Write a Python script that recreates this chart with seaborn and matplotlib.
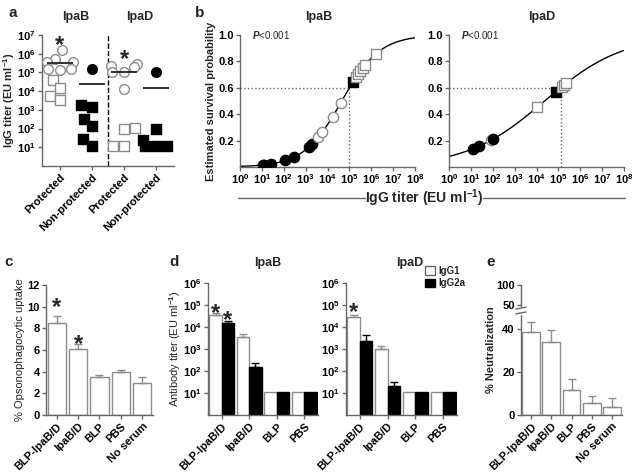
import numpy as np
import pandas as pd
import matplotlib
matplotlib.use('Agg')
import matplotlib.pyplot as plt
import matplotlib.transforms as mtransforms
import seaborn as sns
from matplotlib.lines import Line2D
from matplotlib.patches import Patch
from matplotlib.ticker import FuncFormatter, NullLocator

# ---------------- data ----------------
# a: IgG titers (EU/ml), protected vs non-protected
a_order = ['IpaB_P', 'IpaB_N', 'IpaD_P', 'IpaD_N']
a_ticklabels = ['Protected', 'Non-protected', 'Protected', 'Non-protected']
ipab_prot_circles = [1.6e6, 5.0e5, 3.8e5, 3.6e5, 1.6e5, 1.5e5, 1.4e5]
ipab_prot_squares = [4.0e4, 1.5e4, 5.5e3, 3.4e3]
ipab_non_circles = [1.5e5]
ipab_non_squares = [1.8e3, 1.4e3, 3.2e2, 1.3e2, 27, 12]
ipad_prot_circles = [2.8e5, 2.3e5, 1.9e5, 1.1e5, 1.0e5, 1.3e4]
ipad_prot_squares = [110, 92, 12, 12]
ipad_non_circles = [1.1e5]
ipad_non_squares = [100, 25, 12, 12, 12]
a_lines = [3.1e5, 2.3e4, 1.0e5, 1.5e4]

# b: logistic fit, logit(p) = intercept + slope*log10(titer)
ipab_fit = (-5.35, 1.15)
ipad_fit = (-2.44, 0.558)
ipab_fill_circles = [11, 13, 25, 120, 280, 1.5e3, 1.9e3]
ipab_open_circles = [3.8e3, 5.9e3, 1.7e4, 4.0e4]
ipab_fill_squares = [1.5e5]
ipab_open_squares = [2.0e5, 2.5e5, 3.2e5, 4.0e5, 5.0e5, 1.6e6]
ipad_fill_circles = [12, 24, 105]
ipad_open_circles = [83]
ipad_fill_squares = [7.6e4]
ipad_open_squares = [1.07e4, 1.4e5, 1.8e5, 2.3e5]
cutoff_p = 0.6

# c: opsonophagocytic uptake (%)
c_groups = ['BLP-IpaB/D', 'IpaB/D', 'BLP', 'PBS', 'No serum']
c_uptake = [8.46, 6.06, 3.48, 3.94, 2.92]
c_sem = [0.68, 0.54, 0.21, 0.21, 0.56]

# d: antibody titers (EU/ml) by isotype
d_groups = ['BLP-IpaB/D', 'IpaB/D', 'BLP', 'PBS']
d_isotypes = ['IgG1', 'IgG2a']
d_ipab_igg1 = [3.5e4, 3.6e3, 11, 11]
d_ipab_igg2a = [1.5e4, 1.5e2, 11, 11]
d_ipab_igg1_err = [7e3, 1.1e3, 0, 0]
d_ipab_igg2a_err = [4e3, 70, 0, 0]
d_ipad_igg1 = [2.9e4, 1.0e3, 11, 11]
d_ipad_igg2a = [2.2e3, 21, 11, 11]
d_ipad_igg1_err = [6e3, 4e2, 0, 0]
d_ipad_igg2a_err = [2.3e3, 10, 0, 0]

# e: neutralization (%)
e_groups = ['BLP-IpaB/D', 'IpaB/D', 'BLP', 'PBS', 'No serum']
e_neut = [38.7, 33.8, 11.6, 5.4, 3.6]
e_sem = [4.1, 5.7, 5.1, 3.4, 4.2]

# ---------------- style ----------------
sns.set_style('ticks')
plt.rcParams['font.family'] = ['Liberation Sans', 'DejaVu Sans']
plt.rcParams['font.weight'] = 'bold'
plt.rcParams['axes.labelweight'] = 'bold'
plt.rcParams['mathtext.fontset'] = 'custom'
plt.rcParams['mathtext.rm'] = 'Liberation Sans:bold'
plt.rcParams['mathtext.bf'] = 'Liberation Sans:bold'
plt.rcParams['mathtext.it'] = 'Liberation Sans:italic'
plt.rcParams['mathtext.default'] = 'rm'
GREY = '#666666'
OPEN = '#8c8c8c'
FS = 8

W, H = 638, 474
fig = plt.figure(figsize=(W / 100, H / 100), dpi=100)


def px_axes(x0, x1, y0, y1):
    return fig.add_axes([x0 / W, 1 - y1 / H, (x1 - x0) / W, (y1 - y0) / H])


def prism(ax):
    sns.despine(ax=ax)
    for s in ['left', 'bottom']:
        ax.spines[s].set_color(GREY)
        ax.spines[s].set_linewidth(1)
    ax.tick_params(colors=GREY, labelcolor='black', labelsize=FS, length=3, width=1, pad=1.5)


def decades(ax, axis, lo, hi):
    a = ax.yaxis if axis == 'y' else ax.xaxis
    a.set_ticks([10.0 ** k for k in range(lo, hi + 1)])
    a.set_major_formatter(FuncFormatter(lambda v, pos: f'10$^{{{int(round(np.log10(v)))}}}$'))
    a.set_minor_locator(NullLocator())


def star(ax, x, y, dy=-9):
    ax.annotate('*', (x, y), xytext=(0, dy), textcoords='offset points',
                ha='center', va='baseline', fontsize=17, fontweight='bold')


def surv(t, fit):
    return 1 / (1 + np.exp(-(fit[0] + fit[1] * np.log10(t))))


# ---------------- a ----------------
ax = px_axes(42, 174, 35, 166)
ax.set_yscale('log')
a_sets = [
    ('IpaB_P', ipab_prot_circles, 'o', False),
    ('IpaB_P', ipab_prot_squares, 's', False),
    ('IpaB_N', ipab_non_circles, 'o', True),
    ('IpaB_N', ipab_non_squares, 's', True),
    ('IpaD_P', ipad_prot_circles, 'o', False),
    ('IpaD_P', ipad_prot_squares, 's', False),
    ('IpaD_N', ipad_non_circles, 'o', True),
    ('IpaD_N', ipad_non_squares, 's', True),
]
for grp, vals, mk, filled in a_sets:
    sub = pd.DataFrame({'group': grp, 'titer': vals})
    sns.swarmplot(data=sub, x='group', y='titer', order=a_order, marker=mk,
                  size=7 if mk == 'o' else 6.5,
                  color='black' if filled else 'white',
                  edgecolor='black' if filled else OPEN, linewidth=1, ax=ax)
xs = np.arange(len(a_order))
ax.hlines(a_lines, xs - 0.4, xs + 0.4, color='#222222', lw=1.3, zorder=5)
ax.axvline(1.5, ls='--', color='black', lw=1)
ax.set_xlim(-0.55, 3.55)
ax.set_ylim(1, 1e7)
decades(ax, 'y', 1, 7)
ax.set_xticks(xs)
ax.set_xticklabels(a_ticklabels, rotation=45, ha='right', rotation_mode='anchor')
ax.set_xlabel('')
ax.set_ylabel('IgG titer (EU ml$^{-1}$)', fontsize=FS)
ax.yaxis.set_label_coords(-0.19, 0.5)
star(ax, 0, 10 ** 6.74)
star(ax, 2, 10 ** 6.03)
tr = mtransforms.blended_transform_factory(ax.transData, ax.transAxes)
ax.text(0.5, 1.137, 'IpaB', transform=tr, ha='center', va='center', fontsize=9)
ax.text(2.5, 1.137, 'IpaD', transform=tr, ha='center', va='center', fontsize=9)
prism(ax)

# ---------------- b ----------------
b_specs = [
    (px_axes(240, 415, 35, 167), 'IpaB', 0.45, ipab_fit,
     ipab_fill_circles, ipab_open_circles, ipab_fill_squares, ipab_open_squares),
    (px_axes(449, 624, 35, 167), 'IpaD', 0.53, ipad_fit,
     ipad_fill_circles, ipad_open_circles, ipad_fill_squares, ipad_open_squares),
]
for i, (ax, title, tx, fit, fc, oc, fsq, osq) in enumerate(b_specs):
    ax.set_xscale('log')
    grid = np.logspace(0, 8, 300)
    sns.lineplot(x=grid, y=surv(grid, fit), color='black', lw=1, ax=ax)
    x60 = 10 ** ((np.log(cutoff_p / (1 - cutoff_p)) - fit[0]) / fit[1])
    ax.hlines(cutoff_p, 1, x60, color=GREY, ls=':', lw=1)
    ax.vlines(x60, 0, cutoff_p, color=GREY, ls=':', lw=1)
    if title == 'IpaD':
        layers = [(oc, 'o', 'white', OPEN), (fc, 'o', 'black', 'black'),
                  (fsq, 's', 'black', 'black'), (osq, 's', 'white', OPEN)]
    else:
        layers = [(fc, 'o', 'black', 'black'), (oc, 'o', 'white', OPEN),
                  (fsq, 's', 'black', 'black'), (osq, 's', 'white', OPEN)]
    for vals, mk, face, edge in layers:
        vals = np.array(vals, float)
        sns.scatterplot(x=vals, y=surv(vals, fit), marker=mk, s=55,
                        color=face, edgecolor=edge, linewidth=1, ax=ax, zorder=4)
    ax.set_xlim(1, 1e8)
    ax.set_ylim(0, 1.0)
    decades(ax, 'x', 0, 8)
    ax.set_yticks([0.2, 0.4, 0.6, 0.8, 1.0])
    ax.yaxis.set_major_formatter(FuncFormatter(lambda v, p: f'{v:.1f}'))
    ax.text(0.07, 1.0, '$\\mathit{P}$<0.001', transform=ax.transAxes, fontsize=7,
            fontweight='normal', ha='left', va='center')
    ax.text(tx, 1.14, title, transform=ax.transAxes, ha='center', va='center', fontsize=9)
    if i == 0:
        ax.set_ylabel('Estimated survival probability', fontsize=FS)
        ax.yaxis.set_label_coords(-0.14, 0.5)
    prism(ax)
    ax.tick_params(axis='x', pad=1)

fig.text(424 / W, 1 - 198 / H, 'IgG titer (EU ml$^{-1}$)', ha='center', va='center',
         fontsize=10, fontweight='bold')
fig.add_artist(Line2D([238 / W, 365 / W], [1 - 198 / H] * 2, color=GREY, lw=1))
fig.add_artist(Line2D([483 / W, 625 / W], [1 - 198 / H] * 2, color=GREY, lw=1))

# ---------------- c ----------------
ax = px_axes(46, 153, 285, 415)
df_c = pd.DataFrame({'group': c_groups, 'uptake': c_uptake})
sns.barplot(data=df_c, x='group', y='uptake', color='white', saturation=1,
            edgecolor=OPEN, linewidth=1, width=0.85, ax=ax)
ax.errorbar(np.arange(len(c_groups)), c_uptake, yerr=[np.zeros(len(c_sem)), c_sem],
            fmt='none', ecolor=OPEN, elinewidth=1, capsize=3, capthick=1)
ax.set_xlim(-0.5, 4.5)
ax.set_ylim(0, 12)
ax.set_yticks(range(0, 13, 2))
ax.set_xticks(range(len(c_groups)))
ax.set_xticklabels(c_groups, rotation=45, ha='right', rotation_mode='anchor')
ax.set_xlabel('')
ax.set_ylabel('% Opsonophagocytic uptake', fontsize=FS, fontweight='normal')
ax.yaxis.set_label_coords(-0.2, 0.5)
star(ax, 0, 10.46)
star(ax, 1, 7.1)
prism(ax)

# ---------------- d ----------------
d_specs = [
    (px_axes(208, 318, 283, 415), 'IpaB', 0.545, d_ipab_igg1, d_ipab_igg2a,
     d_ipab_igg1_err, d_ipab_igg2a_err),
    (px_axes(346, 457, 283, 415), 'IpaD', 0.57, d_ipad_igg1, d_ipad_igg2a,
     d_ipad_igg1_err, d_ipad_igg2a_err),
]
for i, (ax, title, tx, v1, v2, e1, e2) in enumerate(d_specs):
    ax.set_yscale('log')
    df_d = pd.DataFrame({'group': d_groups * 2,
                         'isotype': [d_isotypes[0]] * 4 + [d_isotypes[1]] * 4,
                         'titer': v1 + v2})
    sns.barplot(data=df_d, x='group', y='titer', hue='isotype', order=d_groups,
                hue_order=d_isotypes, palette=['white', 'black'], saturation=1,
                width=0.9, linewidth=1, edgecolor=OPEN, legend=False, ax=ax)
    for cont, vals, errs, ec in zip(ax.containers, [v1, v2], [e1, e2], [OPEN, 'black']):
        bx = [b.get_x() + b.get_width() / 2 for b in cont]
        if ec == 'black':
            for b in cont:
                b.set_edgecolor('black')
        keep = [k for k, e in enumerate(errs) if e > 0]
        ax.errorbar([bx[k] for k in keep], [vals[k] for k in keep],
                    yerr=[[0] * len(keep), [errs[k] for k in keep]],
                    fmt='none', ecolor=ec, elinewidth=1, capsize=3, capthick=1)
    ax.set_xlim(-0.5, 3.5)
    ax.set_ylim(1, 1e6)
    decades(ax, 'y', 1, 6)
    ax.set_xticks(range(len(d_groups)))
    ax.set_xticklabels(d_groups, rotation=45, ha='right', rotation_mode='anchor')
    ax.set_xlabel('')
    ax.set_ylabel('')
    ax.text(tx, 1.15, title, transform=ax.transAxes, ha='center', va='center', fontsize=9)
    if i == 0:
        ax.set_ylabel('Antibody titer (EU ml$^{-1}$)', fontsize=FS, fontweight='normal')
        ax.yaxis.set_label_coords(-0.225, 0.5)
        star(ax, -0.225, 10 ** 4.9)
        star(ax, 0.225, 10 ** 4.55)
    else:
        star(ax, -0.225, 10 ** 4.95)
        ax.legend(handles=[Patch(facecolor='white', edgecolor=GREY),
                           Patch(facecolor='black', edgecolor='black')],
                  labels=d_isotypes, loc='upper left', bbox_to_anchor=(0.71, 1.13),
                  frameon=False, fontsize=7, handlelength=1.0, handleheight=1.0,
                  handletextpad=0.4, labelspacing=0.25, borderpad=0, borderaxespad=0)
    prism(ax)

# ---------------- e ----------------
def e_fwd(y):
    y = np.asarray(y, float)
    return np.where(y <= 40, y, np.where(y <= 50, 40 + (y - 40) * 1.12,
                                         51.2 + (y - 50) * 0.186))


def e_inv(f):
    f = np.asarray(f, float)
    return np.where(f <= 40, f, np.where(f <= 51.2, 40 + (f - 40) / 1.12,
                                         50 + (f - 51.2) / 0.186))


ax = px_axes(521, 622, 285, 415)
df_e = pd.DataFrame({'group': e_groups, 'neut': e_neut})
sns.barplot(data=df_e, x='group', y='neut', color='white', saturation=1,
            edgecolor=OPEN, linewidth=1, width=0.88, ax=ax)
ax.errorbar(np.arange(len(e_groups)), e_neut, yerr=[np.zeros(len(e_sem)), e_sem],
            fmt='none', ecolor=OPEN, elinewidth=1, capsize=3, capthick=1)
ax.set_yscale('function', functions=(e_fwd, e_inv))
ax.set_ylim(0, 100)
ax.set_yticks([0, 20, 40, 50, 100])
ax.set_yticklabels(['0', '20', '40', '50', '100'])
ax.set_xlim(-0.5, 4.5)
ax.set_xticks(range(len(e_groups)))
ax.set_xticklabels(e_groups, rotation=45, ha='right', rotation_mode='anchor')
ax.set_xlabel('')
ax.set_ylabel('% Neutralization', fontsize=FS)
ax.yaxis.set_label_coords(-0.25, 0.5)
prism(ax)
ytr = ax.get_yaxis_transform()
ax.plot([0, 0], [46.5, 48.6], transform=ytr, color='white', lw=2.5, clip_on=False, zorder=6)
for yb in (46.3, 48.3):
    ax.plot([-0.05, 0.05], [yb, yb + 0.8], transform=ytr, color=GREY, lw=1,
            clip_on=False, zorder=7)

# ---------------- panel letters ----------------
for letter, x, y in [('a', 13, 13), ('b', 200, 13), ('c', 9, 262), ('d', 174, 262), ('e', 491, 262)]:
    fig.text(x / W, 1 - y / H, letter, fontsize=11, fontweight='bold', ha='center', va='center')

fig.savefig('out.png', dpi=100)
